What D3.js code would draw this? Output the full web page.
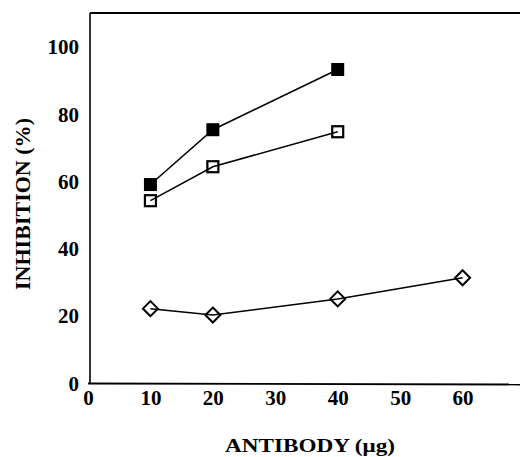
<!DOCTYPE html>
<html>
<head>
<meta charset="utf-8">
<script src="https://cdn.jsdelivr.net/npm/d3@7"></script>
<style>
  body { margin: 0; background: #fff; }
  svg { display: block; }
  text { font-family: "Liberation Serif", "Times New Roman", serif; font-weight: bold; fill: #000; }
</style>
</head>
<body>
<div id="chart"><svg></svg></div>
<script>
// antibody dose (ug)
var doseA = [10, 20, 40];
var filledSq = [59, 75.3, 93.2];
var openSq = [54.2, 64.3, 74.7];
var doseB = [10, 20, 40, 60];
var diamond = [22.1, 20.2, 25, 31.3];

var xTicks = [0, 10, 20, 30, 40, 50, 60];
var yTicks = [0, 20, 40, 60, 80, 100];

var width = 520, height = 457;

var svg = d3.select("#chart").select("svg")
    .attr("width", width)
    .attr("height", height);

var x = d3.scaleLinear().domain([0, 70]).range([88, 525]);
var y = d3.scaleLinear().domain([0, 110]).range([383, 13]);

// frame: left, top, bottom
svg.append("line")
    .attr("x1", x(0) + 2).attr("x2", x(0) + 2)
    .attr("y1", y(110)).attr("y2", y(0))
    .attr("stroke", "#000").attr("stroke-width", 1.6);
svg.append("line")
    .attr("x1", x(0) + 2).attr("x2", width)
    .attr("y1", y(110)).attr("y2", y(110))
    .attr("stroke", "#000").attr("stroke-width", 1.8);
svg.append("line")
    .attr("x1", x(0)).attr("x2", width)
    .attr("y1", y(0) + 0.5).attr("y2", y(0) + 1.5)
    .attr("stroke", "#000").attr("stroke-width", 1.8);

var xAxis = svg.append("g")
    .attr("transform", "translate(0," + y(0) + ")")
    .call(d3.axisBottom(x).tickValues(xTicks).tickSize(0).tickPadding(22));
xAxis.select(".domain").remove();
xAxis.selectAll("text")
    .attr("dy", "0")
    .style("font-size", "21px")
    .style("font-family", "Liberation Serif")
    .style("font-weight", "bold")
    .attr("fill", "#000");

var yAxis = svg.append("g")
    .attr("transform", "translate(" + x(0) + ",0)")
    .call(d3.axisLeft(y).tickValues(yTicks).tickSize(0).tickPadding(9));
yAxis.select(".domain").remove();
yAxis.selectAll("text")
    .attr("dy", "0.34em")
    .style("font-size", "21px")
    .style("font-family", "Liberation Serif")
    .style("font-weight", "bold")
    .attr("fill", "#000");

var line = d3.line()
    .x(function (d) { return x(d[0]); })
    .y(function (d) { return y(d[1]); });

function series(xs, ys) {
    return xs.map(function (v, i) { return [v, ys[i]]; });
}

var sFilled = series(doseA, filledSq);
var sOpen = series(doseA, openSq);
var sDiamond = series(doseB, diamond);

[sFilled, sOpen, sDiamond].forEach(function (s) {
    svg.append("path")
        .datum(s)
        .attr("d", line)
        .attr("fill", "none")
        .attr("stroke", "#000")
        .attr("stroke-width", 1.5);
});

var sq = 13;
svg.selectAll(".filled")
    .data(sFilled)
    .enter().append("rect")
    .attr("class", "filled")
    .attr("x", function (d) { return x(d[0]) - sq / 2; })
    .attr("y", function (d) { return y(d[1]) - sq / 2; })
    .attr("width", sq).attr("height", sq)
    .attr("fill", "#000");

svg.selectAll(".open")
    .data(sOpen)
    .enter().append("rect")
    .attr("class", "open")
    .attr("x", function (d) { return x(d[0]) - (sq - 2) / 2; })
    .attr("y", function (d) { return y(d[1]) - (sq - 2) / 2; })
    .attr("width", sq - 2).attr("height", sq - 2)
    .attr("fill", "none")
    .attr("stroke", "#000")
    .attr("stroke-width", 2.2);

var dm = 7.5;
svg.selectAll(".diamond")
    .data(sDiamond)
    .enter().append("path")
    .attr("class", "diamond")
    .attr("d", function (d) {
        var cx = x(d[0]), cy = y(d[1]);
        return "M" + cx + "," + (cy - dm) + "L" + (cx + dm) + "," + cy +
            "L" + cx + "," + (cy + dm) + "L" + (cx - dm) + "," + cy + "Z";
    })
    .attr("fill", "none")
    .attr("stroke", "#000")
    .attr("stroke-width", 2);

svg.append("text")
    .attr("x", 310)
    .attr("y", 452)
    .attr("text-anchor", "middle")
    .attr("textLength", 170)
    .attr("lengthAdjust", "spacingAndGlyphs")
    .style("font-size", "19px")
    .text("ANTIBODY (\u03bcg)");

svg.append("text")
    .attr("transform", "translate(30,204) rotate(-90)")
    .attr("text-anchor", "middle")
    .attr("textLength", 172)
    .attr("lengthAdjust", "spacingAndGlyphs")
    .style("font-size", "21px")
    .text("INHIBITION (%)");
</script>
</body>
</html>
